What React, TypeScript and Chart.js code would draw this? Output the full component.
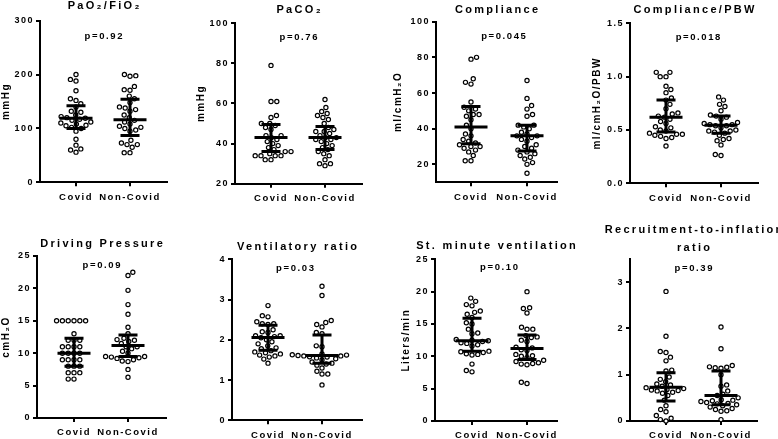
import React, { useEffect, useRef } from "react";
import { Chart, registerables } from "chart.js";
Chart.register(...registerables);

const FONT = "'Liberation Sans', Arial, Helvetica, sans-serif";
const GROUPS = ["Covid", "Non-Covid"];

// ---- PaO2/FiO2 ----
const pfCovid = [200, 191, 188, 170, 155, 152, 146, 140, 132, 130, 125, 122, 120, 119, 117, 115, 112, 110, 108, 106, 105, 102, 100, 95, 80, 69, 62, 60, 56];
const pfNonCovid = [200, 198, 197, 178, 172, 171, 160, 155, 148, 140, 138, 135, 132, 125, 120, 115, 112, 108, 104, 102, 100, 97, 95, 78, 73, 70, 70, 65, 55, 55];
const pfCovidStats = [100, 119, 142]; // Q1, median, Q3
const pfNonCovidStats = [87, 116, 154];
const pfTicks = [0, 100, 200, 300];
const pfTickLabels = ["0", "100", "200", "300"];

// ---- PaCO2 ----
const pacoCovid = [79, 61, 61, 54, 53, 50, 50, 49, 48, 47, 44, 44, 43, 42, 41, 40, 39, 38, 37, 36, 36, 35, 34, 34, 34, 34, 32, 32];
const pacoNonCovid = [62, 58, 56, 55, 54, 53, 52, 50, 48, 47, 46, 46, 45, 44, 43, 43, 42, 42, 41, 40, 39, 38, 37, 36, 35, 34, 32, 30, 30, 29];
const pacoCovidStats = [36, 43, 49.5];
const pacoNonCovidStats = [37, 43, 48.5];
const pacoTicks = [20, 40, 60, 80, 100];
const pacoTickLabels = ["20", "40", "60", "80", "100"];

// ---- Compliance ----
const compCovid = [80, 79, 68, 66, 65, 55, 52, 51, 50, 48, 48, 47, 45, 42, 40, 37, 36, 34, 33, 32, 31, 30, 30, 29, 28, 27, 25, 22, 22];
const compNonCovid = [67, 57, 53, 51, 48, 47, 42, 42, 41, 40, 38, 37, 36, 36, 35, 34, 33, 31, 30, 29, 28, 27, 26, 25, 24, 23, 21, 20, 15];
const compCovidStats = [31.5, 41, 52.5];
const compNonCovidStats = [27.5, 36, 42];
const compTicks = [20, 40, 60, 80, 100];
const compTickLabels = ["20", "40", "60", "80", "100"];

// ---- Compliance/PBW ----
const cpbwCovid = [1.04, 1.04, 1.0, 1.0, 0.91, 0.88, 0.85, 0.8, 0.78, 0.74, 0.7, 0.66, 0.65, 0.63, 0.62, 0.6, 0.58, 0.56, 0.53, 0.52, 0.5, 0.49, 0.47, 0.46, 0.46, 0.45, 0.44, 0.43, 0.42, 0.35];
const cpbwNonCovid = [0.81, 0.78, 0.74, 0.72, 0.68, 0.64, 0.63, 0.62, 0.6, 0.57, 0.56, 0.55, 0.55, 0.54, 0.54, 0.52, 0.5, 0.49, 0.49, 0.48, 0.47, 0.45, 0.42, 0.41, 0.4, 0.36, 0.27, 0.26];
const cpbwCovidStats = [0.48, 0.62, 0.78];
const cpbwNonCovidStats = [0.47, 0.545, 0.63];
const cpbwTicks = [0, 0.5, 1.0, 1.5];
const cpbwTickLabels = ["0.0", "0.5", "1.0", "1.5"];

// ---- Driving Pressure ----
const dpCovid = [15, 15, 15, 15, 15, 15, 13, 12, 12, 12, 11, 11, 11, 11, 10, 10, 10, 10, 9, 9, 9, 9, 8, 8, 8, 7, 7, 7, 6, 6];
const dpNonCovid = [22.5, 22, 19.7, 17.5, 16, 14, 13, 12.3, 12.1, 12, 11.8, 11.5, 11, 11, 10.7, 10.3, 10, 9.5, 9.5, 9.4, 9.3, 9.2, 9.0, 8.8, 8.7, 7.5, 6.3];
const dpCovidStats = [8, 10, 12.3];
const dpNonCovidStats = [9.5, 11.2, 12.8];
const dpTicks = [0, 5, 10, 15, 20, 25];
const dpTickLabels = ["0", "5", "10", "15", "20", "25"];

// ---- Ventilatory ratio ----
const vrCovid = [2.85, 2.6, 2.57, 2.45, 2.4, 2.4, 2.38, 2.25, 2.2, 2.18, 2.1, 2.1, 2.08, 2.05, 2.0, 1.95, 1.9, 1.85, 1.8, 1.78, 1.73, 1.7, 1.68, 1.65, 1.62, 1.6, 1.57, 1.52, 1.42];
const vrNonCovid = [3.33, 3.1, 2.48, 2.43, 2.38, 2.32, 2.18, 2.15, 1.85, 1.83, 1.65, 1.63, 1.62, 1.61, 1.6, 1.6, 1.58, 1.57, 1.55, 1.53, 1.5, 1.45, 1.42, 1.4, 1.37, 1.3, 1.22, 1.15, 1.15, 0.88];
const vrCovidStats = [1.74, 2.06, 2.36];
const vrNonCovidStats = [1.42, 1.61, 2.12];
const vrTicks = [0, 1, 2, 3, 4];
const vrTickLabels = ["0", "1", "2", "3", "4"];

// ---- St. minute ventilation ----
const mvCovid = [19, 18.5, 18, 17.8, 17, 16.8, 16.5, 16, 15.2, 15, 14.2, 13.6, 13.5, 12.6, 12.5, 12.4, 12.3, 12.1, 12, 11.8, 11.6, 10.8, 10.7, 10.6, 10.4, 10.3, 10.2, 8.8, 7.8, 7.6];
const mvNonCovid = [20, 17.5, 17.4, 16.7, 14.5, 14.2, 14.2, 13.2, 13, 12.9, 12.5, 12.3, 11.4, 11.3, 11, 10.9, 10.3, 10.1, 10, 9.8, 9.4, 9.2, 9.0, 8.9, 8.8, 8.7, 6.0, 5.8];
const mvCovidStats = [10.8, 12.4, 15.9];
const mvNonCovidStats = [9.5, 11.2, 13.3];
const mvTicks = [0, 5, 10, 15, 20, 25];
const mvTickLabels = ["0", "5", "10", "15", "20", "25"];

// ---- Recruitment-to-inflation ratio ----
const riCovid = [2.8, 1.83, 1.5, 1.48, 1.38, 1.3, 1.1, 1.08, 0.95, 0.9, 0.85, 0.8, 0.78, 0.75, 0.72, 0.7, 0.68, 0.67, 0.66, 0.65, 0.62, 0.6, 0.55, 0.45, 0.33, 0.25, 0.2, 0.12, 0.06, 0.03, 0.0];
const riNonCovid = [2.03, 1.56, 1.2, 1.17, 1.16, 1.15, 1.14, 1.0, 0.78, 0.75, 0.65, 0.58, 0.55, 0.5, 0.46, 0.45, 0.44, 0.42, 0.4, 0.38, 0.37, 0.35, 0.33, 0.3, 0.27, 0.25, 0.22, 0.21, 0.03];
const riCovidStats = [0.43, 0.73, 1.04];
const riNonCovidStats = [0.35, 0.55, 1.08];
const riTicks = [0, 1, 2, 3];
const riTickLabels = ["0", "1", "2", "3"];

// ---- layout (page pixels) ----
type Layout = {
  left: number; top: number; w: number; h: number;
  axisX: number; cat1: number; cat2: number; right: number;
  plotTop: number; plotBottom: number;
  titleY: number[]; pY: number; pShift: number; yTitleX: number | null;
};
const LAYOUTS: Layout[] = [
  { left: 0, top: 0, w: 195, h: 214, axisX: 40, cat1: 76, cat2: 130, right: 167, plotTop: 20.7, plotBottom: 182.3, titleY: [8.5], pY: 39, pShift: 0, yTitleX: 5 },
  { left: 195, top: 0, w: 195, h: 214, axisX: 235, cat1: 271, cat2: 325, right: 362, plotTop: 23.3, plotBottom: 183.7, titleY: [12.7], pY: 40, pShift: 0, yTitleX: 200 },
  { left: 390, top: 0, w: 195, h: 214, axisX: 436, cat1: 471, cat2: 527, right: 557, plotTop: 21.7, plotBottom: 182.2, titleY: [12.7], pY: 39, pShift: 7, yTitleX: 398.5 },
  { left: 585, top: 0, w: 193, h: 214, axisX: 630, cat1: 666, cat2: 721, right: 758, plotTop: 23.3, plotBottom: 183.3, titleY: [12.7], pY: 40, pShift: 4, yTitleX: 597 },
  { left: 0, top: 218, w: 195, h: 221, axisX: 37, cat1: 74, cat2: 128, right: 166, plotTop: 256, plotBottom: 418, titleY: [247.3], pY: 267.5, pShift: 0, yTitleX: 6.3 },
  { left: 195, top: 218, w: 195, h: 221, axisX: 232, cat1: 268, cat2: 322, right: 362, plotTop: 259.3, plotBottom: 420.3, titleY: [249.5], pY: 271, pShift: -2, yTitleX: null },
  { left: 390, top: 218, w: 195, h: 221, axisX: 435, cat1: 472, cat2: 527, right: 557, plotTop: 259.3, plotBottom: 421, titleY: [249.3], pY: 270, pShift: 3, yTitleX: 406 },
  { left: 585, top: 218, w: 193, h: 221, axisX: 630, cat1: 666, cat2: 721, right: 757, plotTop: 259, plotBottom: 421, titleY: [233.3, 250.7], pY: 271, pShift: 0, yTitleX: null },
];

type Panel = {
  title: string[]; p: string; yTitle: string | null;
  yMin: number; yMax: number; ticks: number[]; tickLabels: string[];
  covid: number[]; non: number[]; covidStats: number[]; nonStats: number[];
};
const PANELS: Panel[] = [
  { title: ["PaO₂/FiO₂"], p: "p=0.92", yTitle: "mmHg", yMin: 0, yMax: 300, ticks: pfTicks, tickLabels: pfTickLabels, covid: pfCovid, non: pfNonCovid, covidStats: pfCovidStats, nonStats: pfNonCovidStats },
  { title: ["PaCO₂"], p: "p=0.76", yTitle: "mmHg", yMin: 20, yMax: 100, ticks: pacoTicks, tickLabels: pacoTickLabels, covid: pacoCovid, non: pacoNonCovid, covidStats: pacoCovidStats, nonStats: pacoNonCovidStats },
  { title: ["Compliance"], p: "p=0.045", yTitle: "ml/cmH₂O", yMin: 10, yMax: 100, ticks: compTicks, tickLabels: compTickLabels, covid: compCovid, non: compNonCovid, covidStats: compCovidStats, nonStats: compNonCovidStats },
  { title: ["Compliance/PBW"], p: "p=0.018", yTitle: "ml/cmH₂O/PBW", yMin: 0, yMax: 1.5, ticks: cpbwTicks, tickLabels: cpbwTickLabels, covid: cpbwCovid, non: cpbwNonCovid, covidStats: cpbwCovidStats, nonStats: cpbwNonCovidStats },
  { title: ["Driving Pressure"], p: "p=0.09", yTitle: "cmH₂O", yMin: 0, yMax: 25, ticks: dpTicks, tickLabels: dpTickLabels, covid: dpCovid, non: dpNonCovid, covidStats: dpCovidStats, nonStats: dpNonCovidStats },
  { title: ["Ventilatory ratio"], p: "p=0.03", yTitle: null, yMin: 0, yMax: 4, ticks: vrTicks, tickLabels: vrTickLabels, covid: vrCovid, non: vrNonCovid, covidStats: vrCovidStats, nonStats: vrNonCovidStats },
  { title: ["St. minute ventilation"], p: "p=0.10", yTitle: "Liters/min", yMin: 0, yMax: 25, ticks: mvTicks, tickLabels: mvTickLabels, covid: mvCovid, non: mvNonCovid, covidStats: mvCovidStats, nonStats: mvNonCovidStats },
  { title: ["Recruitment-to-inflation", "ratio"], p: "p=0.39", yTitle: null, yMin: 0, yMax: 3.5, ticks: riTicks, tickLabels: riTickLabels, covid: riCovid, non: riNonCovid, covidStats: riCovidStats, nonStats: riNonCovidStats },
];

const POINT_D = 5.8;

function beeswarm(values: number[], pxPerY: number, d: number): number[] {
  const idx = values.map((_, i) => i).sort((a, b) => values[a] - values[b]);
  const placed: { x: number; y: number }[] = [];
  const out = new Array(values.length).fill(0);
  let flip = 1;
  for (const i of idx) {
    const y = values[i] * pxPerY;
    const near = placed.filter((p) => Math.abs(p.y - y) < d);
    const cands = [0];
    for (const p of near) {
      const dx = Math.sqrt(d * d - (p.y - y) * (p.y - y));
      cands.push(p.x + dx + 0.01, p.x - dx - 0.01);
    }
    const ok = cands.filter((x) => near.every((p) => (p.x - x) ** 2 + (p.y - y) ** 2 >= d * d - 0.01));
    ok.sort((a, b) => Math.abs(a) - Math.abs(b) || (b - a) * flip);
    const x = ok[0];
    flip = -flip;
    placed.push({ x, y });
    out[i] = x;
  }
  return out;
}

function drawSpaced(ctx: CanvasRenderingContext2D, text: string, cx: number, y: number, font: string, spacing: number) {
  ctx.save();
  ctx.font = font;
  (ctx as any).letterSpacing = "0px";
  const chars = Array.from(text).length;
  const w = ctx.measureText(text).width + spacing * (chars - 1);
  (ctx as any).letterSpacing = spacing + "px";
  ctx.textAlign = "left";
  ctx.textBaseline = "alphabetic";
  ctx.fillStyle = "#000";
  ctx.fillText(text, cx - w / 2, y);
  ctx.restore();
}

function PanelChart({ panel, layout }: { panel: Panel; layout: Layout }) {
  const ref = useRef<HTMLCanvasElement | null>(null);
  useEffect(() => {
    const L = layout;
    const unit = L.cat2 - L.cat1;
    const xMin = 1 - (L.cat1 - L.axisX) / unit;
    const xMax = 2 + (L.right - L.cat2) / unit;
    const pxPerY = (L.plotBottom - L.plotTop) / (panel.yMax - panel.yMin);
    const groupsData = [panel.covid, panel.non];
    const datasets = groupsData.map((vals, gi) => {
      const offs = beeswarm(vals, pxPerY, POINT_D);
      return {
        label: GROUPS[gi],
        data: vals.map((v, i) => ({ x: gi + 1 + offs[i] / unit, y: v })),
        pointRadius: 2.1,
        pointBorderWidth: 1.2,
        pointBorderColor: "#000",
        pointBackgroundColor: "#fff",
        showLine: false,
        clip: false as any,
      };
    });
    const stats = [panel.covidStats, panel.nonStats];

    const plugin = {
      id: "panelDecor",
      beforeDraw(chart: any) {
        chart.ctx.letterSpacing = "1.5px";
      },
      afterDatasetsDraw(chart: any) {
        const ctx = chart.ctx as CanvasRenderingContext2D;
        const xs = chart.scales.x;
        const ys = chart.scales.y;
        ctx.save();
        ctx.strokeStyle = "#000";
        ctx.lineWidth = 3;
        ctx.lineCap = "butt";
        stats.forEach((s, gi) => {
          const cx = xs.getPixelForValue(gi + 1);
          const q1 = ys.getPixelForValue(s[0]);
          const med = ys.getPixelForValue(s[1]);
          const q3 = ys.getPixelForValue(s[2]);
          ctx.beginPath();
          ctx.moveTo(cx, q1);
          ctx.lineTo(cx, q3);
          ctx.moveTo(cx - 9.5, q1);
          ctx.lineTo(cx + 9.5, q1);
          ctx.moveTo(cx - 9.5, q3);
          ctx.lineTo(cx + 9.5, q3);
          ctx.moveTo(cx - 16.5, med);
          ctx.lineTo(cx + 16.5, med);
          ctx.stroke();
        });
        ctx.restore();
      },
      afterDraw(chart: any) {
        const ctx = chart.ctx as CanvasRenderingContext2D;
        const ca = chart.chartArea;
        const cx = (ca.left + ca.right) / 2;
        panel.title.forEach((t, i) => {
          drawSpaced(ctx, t, cx, L.titleY[i] - L.top, `bold 11px ${FONT}`, 2.3);
        });
        drawSpaced(ctx, panel.p, cx + L.pShift, L.pY - L.top, `bold 9.5px ${FONT}`, 1.6);
      },
    };

    const yTitlePad = L.yTitleX != null ? Math.max(0, L.yTitleX - L.left - 6) : 0;

    const chart = new Chart(ref.current as HTMLCanvasElement, {
      type: "scatter",
      data: { datasets: datasets as any },
      options: {
        animation: false,
        responsive: false,
        devicePixelRatio: 1,
        events: [],
        layout: {
          padding: { left: 0, top: L.plotTop - L.top, right: L.left + L.w - L.right, bottom: 0 },
        },
        plugins: { legend: { display: false }, tooltip: { enabled: false }, title: { display: false } },
        scales: {
          x: {
            type: "linear",
            min: xMin,
            max: xMax,
            afterBuildTicks: (s: any) => {
              s.ticks = [{ value: 1 }, { value: 2 }];
            },
            afterFit: (s: any) => {
              s.height = L.top + L.h - L.plotBottom;
              s.paddingLeft = 0;
              s.paddingRight = 0;
            },
            ticks: {
              callback: (v: any) => GROUPS[Math.round(v) - 1],
              font: { family: FONT, size: 9.5, weight: "bold" },
              color: "#000",
              padding: 5,
              maxRotation: 0,
              autoSkip: false,
            },
            grid: { display: true, drawOnChartArea: false, drawTicks: true, tickLength: 4, tickWidth: 2, tickColor: "#000", color: "#000", lineWidth: 2 },
            border: { display: true, width: 2, color: "#000" },
          },
          y: {
            type: "linear",
            min: panel.yMin,
            max: panel.yMax,
            afterBuildTicks: (s: any) => {
              s.ticks = panel.ticks.map((v) => ({ value: v }));
            },
            afterFit: (s: any) => {
              s.width = L.axisX - L.left;
              s.paddingTop = 0;
              s.paddingBottom = 0;
            },
            ticks: {
              callback: (v: any) => {
                const i = panel.ticks.findIndex((t) => Math.abs(t - v) < 1e-9);
                return i >= 0 ? panel.tickLabels[i] : "";
              },
              font: { family: FONT, size: 9, weight: "bold" },
              color: "#000",
              padding: 2,
            },
            title: {
              display: panel.yTitle != null,
              text: panel.yTitle || "",
              font: { family: FONT, size: 10, weight: "bold" },
              color: "#000",
              padding: { top: yTitlePad, bottom: 0 },
            },
            grid: { display: true, drawOnChartArea: false, drawTicks: true, tickLength: 4, tickWidth: 2, tickColor: "#000", color: "#000", lineWidth: 2 },
            border: { display: true, width: 2, color: "#000" },
          },
        },
      } as any,
      plugins: [plugin],
    });
    return () => chart.destroy();
  }, [panel, layout]);

  return (
    <canvas
      ref={ref}
      width={layout.w}
      height={layout.h}
      style={{ position: "absolute", left: layout.left, top: layout.top, width: layout.w, height: layout.h, display: "block" }}
    />
  );
}

export default function App() {
  return (
    <div style={{ position: "absolute", left: 0, top: 0, width: 778, height: 439, background: "#fff", overflow: "hidden" }}>
      {PANELS.map((p, i) => (
        <PanelChart key={i} panel={p} layout={LAYOUTS[i]} />
      ))}
    </div>
  );
}
